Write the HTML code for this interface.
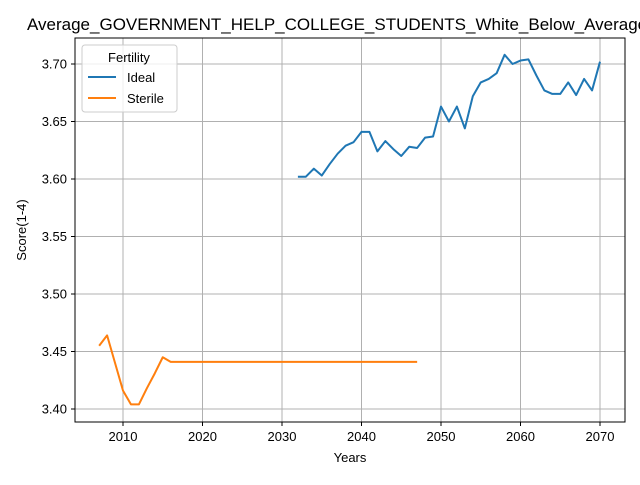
<!DOCTYPE html>
<html><head><meta charset="utf-8"><style>
body{margin:0;background:#fff;font-family:"Liberation Sans","DejaVu Sans",sans-serif}
</style></head><body>
<svg id="chart" width="640" height="480" xmlns="http://www.w3.org/2000/svg">
<rect width="640" height="480" fill="#fff"/>
<text x="27" y="30" font-size="17" text-anchor="start">Average_GOVERNMENT_HELP_COLLEGE_STUDENTS_White_Below_Average</text>
<g id="grid"></g>
<g id="series"></g>
<rect x="75" y="38" width="550" height="384" fill="none" stroke="#000" stroke-width="1"/>
<g id="ticks" font-size="13"></g>
<text x="350" y="462" font-size="13" text-anchor="middle">Years</text>
<text x="26" y="230" font-size="13" text-anchor="middle" transform="rotate(-90 26 230)">Score(1-4)</text>
<g>
<rect x="82" y="45" width="95" height="67" rx="3" fill="#fff" fill-opacity="0.8" stroke="#ccc"/>
<text x="129" y="62" font-size="13" text-anchor="middle">Fertility</text>
<line x1="88" y1="77" x2="116" y2="77" stroke="#1f77b4" stroke-width="2"/>
<text x="127" y="82" font-size="13">Ideal</text>
<line x1="88" y1="98" x2="116" y2="98" stroke="#ff7f0e" stroke-width="2"/>
<text x="127" y="103" font-size="13">Sterile</text>
</g>
</svg>
<script>
const xTicks=[2010,2020,2030,2040,2050,2060,2070];
const yTicks=[3.40,3.45,3.50,3.55,3.60,3.65,3.70];
const idealYears=[2032,2033,2034,2035,2036,2037,2038,2039,2040,2041,2042,2043,2044,2045,2046,2047,2048,2049,2050,2051,2052,2053,2054,2055,2056,2057,2058,2059,2060,2061,2062,2063,2064,2065,2066,2067,2068,2069,2070];
const idealValues=[3.602,3.602,3.609,3.603,3.613,3.622,3.629,3.632,3.641,3.641,3.624,3.633,3.626,3.620,3.628,3.627,3.636,3.637,3.663,3.650,3.663,3.644,3.672,3.684,3.687,3.692,3.708,3.700,3.703,3.704,3.690,3.677,3.674,3.674,3.684,3.673,3.687,3.677,3.702];
const sterileYears=[2007,2008,2009,2010,2011,2012,2013,2014,2015,2016,2017,2020,2025,2030,2035,2040,2045,2047];
const sterileValues=[3.455,3.464,3.440,3.416,3.404,3.404,3.418,3.431,3.445,3.441,3.441,3.441,3.441,3.441,3.441,3.441,3.441,3.441];
const NS="http://www.w3.org/2000/svg";
const x=v=>123+(v-2010)*7.95;
const y=v=>64+(3.70-v)*1150;
const grid=document.getElementById('grid'),ticks=document.getElementById('ticks'),series=document.getElementById('series');
function mk(tag,attrs,parent){const e=document.createElementNS(NS,tag);for(const k in attrs)e.setAttribute(k,attrs[k]);parent.appendChild(e);return e;}
xTicks.forEach(t=>{
  const g=mk('line',{x1:x(t),x2:x(t),y1:38,y2:422,stroke:'#b0b0b0','stroke-width':1},grid);
  
  
  mk('line',{x1:x(t),x2:x(t),y1:422,y2:426,stroke:'#000'},ticks);
  const l=mk('text',{x:x(t),y:441,'text-anchor':'middle'},ticks);l.textContent=t;
  
  
});
yTicks.forEach(t=>{
  const g=mk('line',{x1:75,x2:625,y1:y(t),y2:y(t),stroke:'#b0b0b0','stroke-width':1},grid);
  
  
  mk('line',{x1:71,x2:75,y1:y(t),y2:y(t),stroke:'#000'},ticks);
  const l=mk('text',{x:67,y:y(t)+4.5,'text-anchor':'end'},ticks);l.textContent=t.toFixed(2);
  
  
});
function line(xs,vs,color,name){
  const p=mk('polyline',{points:xs.map((t,i)=>x(t)+','+y(vs[i])).join(' '),fill:'none',stroke:color,'stroke-width':2,'stroke-linejoin':'round'},series);
  
  
}
line(idealYears,idealValues,'#1f77b4','ideal-line');
line(sterileYears,sterileValues,'#ff7f0e','sterile-line');
</script>
</body></html>
